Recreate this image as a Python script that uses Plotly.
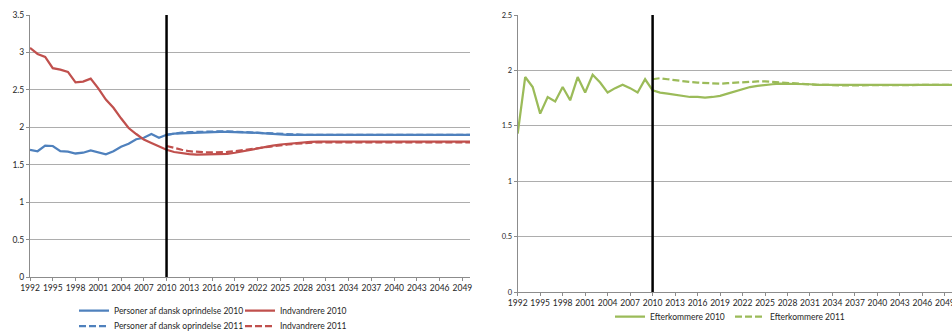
import plotly.graph_objects as go

# ---------------- data ----------------
years = list(range(1992, 2051))
proj_years = list(range(2010, 2051))
forecast_start = 2010
tick_years = list(range(1992, 2050, 3))

dansk_2010 = [1.70, 1.68, 1.755, 1.75, 1.68, 1.675, 1.65, 1.66, 1.69, 1.66,
              1.64, 1.68, 1.74, 1.78, 1.84, 1.86, 1.91, 1.86, 1.90, 1.915,
              1.92, 1.925, 1.93, 1.935, 1.94, 1.94, 1.94, 1.94, 1.935, 1.93,
              1.925, 1.915, 1.91, 1.905, 1.90, 1.90, 1.90, 1.90, 1.90, 1.90,
              1.90, 1.90, 1.90, 1.90, 1.90, 1.90, 1.90, 1.90, 1.90, 1.90,
              1.90, 1.90, 1.90, 1.90, 1.90, 1.90, 1.90, 1.90, 1.90]
indv_2010 = [3.06, 2.98, 2.94, 2.79, 2.77, 2.74, 2.60, 2.61, 2.65, 2.52,
             2.37, 2.26, 2.12, 1.99, 1.91, 1.835, 1.79, 1.745, 1.70, 1.67,
             1.65, 1.64, 1.635, 1.635, 1.635, 1.64, 1.645, 1.66, 1.68, 1.70,
             1.72, 1.74, 1.755, 1.77, 1.78, 1.79, 1.80, 1.805, 1.81, 1.81,
             1.81, 1.81, 1.81, 1.81, 1.81, 1.81, 1.81, 1.81, 1.81, 1.81,
             1.81, 1.81, 1.81, 1.81, 1.81, 1.81, 1.81, 1.81, 1.81]
dansk_2011 = [1.90, 1.92, 1.93, 1.935, 1.94, 1.945, 1.945, 1.945, 1.945, 1.94,
              1.935, 1.93, 1.925, 1.92, 1.915, 1.91, 1.905, 1.90, 1.90, 1.90,
              1.90, 1.90, 1.90, 1.90, 1.90, 1.90, 1.90, 1.90, 1.90, 1.90,
              1.90, 1.90, 1.90, 1.90, 1.90, 1.90, 1.90, 1.90, 1.90, 1.90,
              1.90]
indv_2011 = [1.75, 1.72, 1.70, 1.68, 1.67, 1.665, 1.665, 1.665, 1.67, 1.68,
             1.69, 1.70, 1.72, 1.735, 1.75, 1.76, 1.77, 1.78, 1.79, 1.795,
             1.80, 1.80, 1.80, 1.80, 1.80, 1.80, 1.80, 1.80, 1.80, 1.80,
             1.80, 1.80, 1.80, 1.80, 1.80, 1.80, 1.80, 1.80, 1.80, 1.80,
             1.80]
efter_2010 = [1.43, 1.94, 1.85, 1.61, 1.76, 1.72, 1.85, 1.73, 1.94, 1.80,
              1.96, 1.89, 1.80, 1.84, 1.87, 1.84, 1.80, 1.92, 1.82, 1.80,
              1.79, 1.78, 1.77, 1.76, 1.76, 1.755, 1.76, 1.77, 1.79, 1.81,
              1.83, 1.85, 1.86, 1.87, 1.875, 1.88, 1.88, 1.88, 1.88, 1.875,
              1.87, 1.87, 1.865, 1.865, 1.865, 1.865, 1.865, 1.87, 1.87, 1.87,
              1.87, 1.87, 1.87, 1.87, 1.87, 1.87, 1.87, 1.87, 1.87]
efter_2011 = [1.92, 1.93, 1.92, 1.91, 1.90, 1.895, 1.89, 1.885, 1.88, 1.88,
              1.885, 1.89, 1.895, 1.90, 1.90, 1.90, 1.895, 1.89, 1.885, 1.88,
              1.88, 1.875, 1.87, 1.87, 1.865, 1.865, 1.865, 1.865, 1.865, 1.87,
              1.87, 1.87, 1.87, 1.87, 1.87, 1.87, 1.87, 1.87, 1.87, 1.87,
              1.87]

names = ["Personer af dansk oprindelse 2010", "Indvandrere 2010",
         "Personer af dansk oprindelse 2011", "Indvandrere 2011",
         "Efterkommere 2010", "Efterkommere 2011"]

# ---------------- styles ----------------
W, H = 952, 332
BLUE, RED, GREEN = "#4F81BD", "#C0504D", "#9BBB59"
GRID = "#ADADAD"
FONT = "Lato, 'Liberation Sans', sans-serif"
LW = 2.25
DASH = "7px,3px"

fig = go.Figure()

def add(x, y, name, color, dash, xa, ya, legend):
    fig.add_trace(go.Scatter(
        x=x, y=y, name=name, mode="lines",
        line=dict(color=color, width=LW, dash=dash),
        xaxis=xa, yaxis=ya, legend=legend, hoverinfo="x+y+name"))

add(years, dansk_2010, names[0], BLUE, "solid", "x", "y", "legend")
add(years, indv_2010, names[1], RED, "solid", "x", "y", "legend")
add(proj_years, dansk_2011, names[2], BLUE, DASH, "x", "y", "legend2")
add(proj_years, indv_2011, names[3], RED, DASH, "x", "y", "legend2")
add(years, efter_2010, names[4], GREEN, "solid", "x2", "y2", "legend3")
add(proj_years, efter_2011, names[5], GREEN, DASH, "x2", "y2", "legend3")

def px_x(p):
    return p / W

def px_y(p):
    return (H - p) / H

axis_common = dict(showline=True, linecolor="#8C8C8C", linewidth=1,
                   ticks="outside", ticklen=3, tickcolor="#8C8C8C",
                   zeroline=False, fixedrange=True, automargin=False,
                   ticklabeloverflow="allow")

legend_common = dict(orientation="h", xanchor="left", yanchor="middle",
                     font=dict(size=8.5), bgcolor="rgba(0,0,0,0)",
                     itemclick=False, itemdoubleclick=False)

fig.update_layout(
    width=W, height=H,
    margin=dict(l=0, r=0, t=0, b=0, autoexpand=False),
    paper_bgcolor="white", plot_bgcolor="white",
    font=dict(family=FONT, color="#262626"),
    xaxis=dict(domain=[px_x(30), px_x(470)], range=[1992, 2050],
               tickvals=tick_years, showgrid=False, anchor="y",
               tickfont=dict(size=8.5), **axis_common),
    yaxis=dict(domain=[px_y(277), px_y(15)], range=[0, 3.5], dtick=0.5,
               showgrid=True, gridcolor=GRID, gridwidth=1, anchor="x",
               tickfont=dict(size=8.5), tickformat="~g", **axis_common),
    xaxis2=dict(domain=[px_x(517.7), 1.0], range=[1992, 2049.95],
                tickvals=tick_years, showgrid=False, anchor="y2",
                tickfont=dict(size=8.5), **axis_common),
    yaxis2=dict(domain=[px_y(292), px_y(15)], range=[0, 2.5], dtick=0.5,
                showgrid=True, gridcolor=GRID, gridwidth=1, anchor="x2",
                tickfont=dict(size=7.5), tickformat="~g", **axis_common),
    legend=dict(x=px_x(74), y=px_y(310.7), entrywidth=121, **legend_common),
    legend2=dict(x=px_x(74), y=px_y(326), entrywidth=121, **legend_common),
    legend3=dict(x=px_x(610), y=px_y(316.7), entrywidth=75, **legend_common),
    showlegend=True,
)

for xr, yr in (("x", "y domain"), ("x2", "y2 domain")):
    fig.add_shape(type="line", xref=xr, yref=yr, x0=forecast_start, x1=forecast_start,
                  y0=0, y1=1, line=dict(color="black", width=2.5), layer="above")

fig.write_html("out.html",
               config={"displayModeBar": False},
               post_script="document.body.style.margin='0';document.body.style.padding='0';")
